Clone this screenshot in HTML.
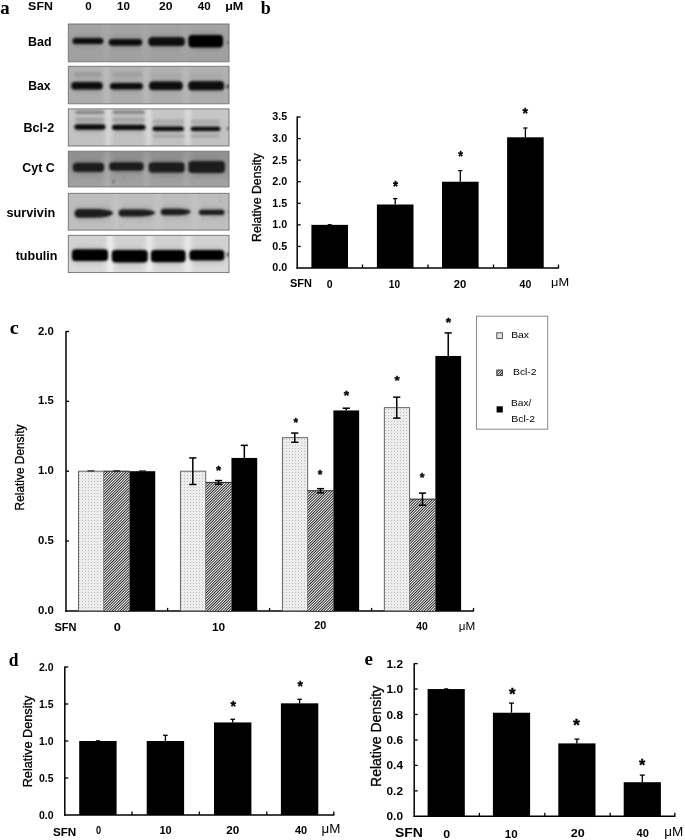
<!DOCTYPE html><html><head><meta charset="utf-8"><style>html,body{margin:0;padding:0;background:#fff;width:685px;height:840px;overflow:hidden}svg{display:block;filter:blur(0.4px)}</style></head><body>
<svg width="685" height="840" viewBox="0 0 685 840">
<defs>
<pattern id="dots" width="3" height="3" patternUnits="userSpaceOnUse"><rect width="3" height="3" fill="#ececec"/><rect x="1" y="1" width="1" height="1" fill="#bcbcbc"/></pattern>
<pattern id="hatch" width="1.92" height="4" patternUnits="userSpaceOnUse" patternTransform="rotate(45)"><rect width="1.92" height="4" fill="#f6f6f6"/><rect width="0.9" height="4" fill="#1a1a1a"/></pattern>
<filter id="blur1" x="-10%" y="-50%" width="120%" height="200%"><feGaussianBlur stdDeviation="0.8"/></filter>
<filter id="blur2" x="-10%" y="-80%" width="120%" height="260%"><feGaussianBlur stdDeviation="1.3"/></filter>
<filter id="blur3" x="-20%" y="-50%" width="140%" height="200%"><feGaussianBlur stdDeviation="2.2"/></filter>
</defs>
<rect width="685" height="840" fill="#fff"/>
<text x="0.32" y="14.14" font-size="19.5" font-weight="bold" text-anchor="start" font-family='"Liberation Serif", serif' textLength="9.41" lengthAdjust="spacingAndGlyphs">a</text>
<text x="260.78" y="14.38" font-size="18" font-weight="bold" text-anchor="start" font-family='"Liberation Serif", serif' >b</text>
<text x="9.71" y="333.92" font-size="18" font-weight="bold" text-anchor="start" font-family='"Liberation Serif", serif' textLength="9.05" lengthAdjust="spacingAndGlyphs">c</text>
<text x="8.87" y="665.64" font-size="18" font-weight="bold" text-anchor="start" font-family='"Liberation Serif", serif' textLength="9.75" lengthAdjust="spacingAndGlyphs">d</text>
<text x="364.43" y="664.64" font-size="18" font-weight="bold" text-anchor="start" font-family='"Liberation Serif", serif' textLength="8.42" lengthAdjust="spacingAndGlyphs">e</text>
<text x="28.14" y="9.64" font-size="11.6" font-weight="bold" text-anchor="start" font-family='"Liberation Sans", sans-serif' textLength="24.80" lengthAdjust="spacingAndGlyphs">SFN</text>
<text x="85.16" y="10.48" font-size="11.5" font-weight="bold" text-anchor="start" font-family='"Liberation Sans", sans-serif' >0</text>
<text x="117.00" y="10.48" font-size="11.5" font-weight="bold" text-anchor="start" font-family='"Liberation Sans", sans-serif' >10</text>
<text x="159.05" y="10.47" font-size="11.5" font-weight="bold" text-anchor="start" font-family='"Liberation Sans", sans-serif' textLength="13.56" lengthAdjust="spacingAndGlyphs">20</text>
<text x="197.84" y="10.49" font-size="11.5" font-weight="bold" text-anchor="start" font-family='"Liberation Sans", sans-serif' textLength="12.91" lengthAdjust="spacingAndGlyphs">40</text>
<text x="225.19" y="9.64" font-size="11.5" font-weight="bold" text-anchor="start" font-family='"Liberation Sans", sans-serif' textLength="18.15" lengthAdjust="spacingAndGlyphs">μM</text>
<text x="28.14" y="46.28" font-size="12" font-weight="bold" text-anchor="start" font-family='"Liberation Sans", sans-serif' textLength="23.54" lengthAdjust="spacingAndGlyphs">Bad</text>
<text x="28.16" y="90.24" font-size="12" font-weight="bold" text-anchor="start" font-family='"Liberation Sans", sans-serif' textLength="22.32" lengthAdjust="spacingAndGlyphs">Bax</text>
<text x="23.57" y="132.26" font-size="12" font-weight="bold" text-anchor="start" font-family='"Liberation Sans", sans-serif' textLength="30.66" lengthAdjust="spacingAndGlyphs">Bcl-2</text>
<text x="22.32" y="171.52" font-size="12.2" font-weight="bold" text-anchor="start" font-family='"Liberation Sans", sans-serif' textLength="32.37" lengthAdjust="spacingAndGlyphs">Cyt C</text>
<text x="6.44" y="216.88" font-size="12.2" font-weight="bold" text-anchor="start" font-family='"Liberation Sans", sans-serif' textLength="48.75" lengthAdjust="spacingAndGlyphs">survivin</text>
<text x="15.65" y="259.57" font-size="12.3" font-weight="bold" text-anchor="start" font-family='"Liberation Sans", sans-serif' textLength="41.87" lengthAdjust="spacingAndGlyphs">tubulin</text>
<defs>
<linearGradient id="pg0" x1="0" y1="0" x2="0" y2="1"><stop offset="0" stop-color="#a3a3a3"/><stop offset="1" stop-color="#a0a0a0"/></linearGradient>
<clipPath id="pc0"><rect x="68.3" y="24.0" width="160.70" height="37.80"/></clipPath>
<linearGradient id="pg1" x1="0" y1="0" x2="0" y2="1"><stop offset="0" stop-color="#b2b2b2"/><stop offset="1" stop-color="#acacac"/></linearGradient>
<clipPath id="pc1"><rect x="68.3" y="66.3" width="160.70" height="37.50"/></clipPath>
<linearGradient id="pg2" x1="0" y1="0" x2="0" y2="1"><stop offset="0" stop-color="#c7c7c7"/><stop offset="1" stop-color="#c0c0c0"/></linearGradient>
<clipPath id="pc2"><rect x="68.3" y="108.9" width="160.70" height="37.10"/></clipPath>
<linearGradient id="pg3" x1="0" y1="0" x2="0" y2="1"><stop offset="0" stop-color="#8e8e8e"/><stop offset="1" stop-color="#a2a2a2"/></linearGradient>
<clipPath id="pc3"><rect x="68.3" y="151.2" width="160.70" height="35.70"/></clipPath>
<linearGradient id="pg4" x1="0" y1="0" x2="0" y2="1"><stop offset="0" stop-color="#bcbcbc"/><stop offset="1" stop-color="#bfbfbf"/></linearGradient>
<clipPath id="pc4"><rect x="68.3" y="193.3" width="160.70" height="36.80"/></clipPath>
<linearGradient id="pg5" x1="0" y1="0" x2="0" y2="1"><stop offset="0" stop-color="#d0d0d0"/><stop offset="1" stop-color="#d9d9d9"/></linearGradient>
<clipPath id="pc5"><rect x="68.3" y="235.3" width="160.70" height="37.30"/></clipPath>
</defs>
<g clip-path="url(#pc0)">
<rect x="68.30" y="24.00" width="160.70" height="37.80" fill="url(#pg0)" />
<g filter="url(#blur3)">
<rect x="104.50" y="21.0" width="4" height="43.80" fill="#fff" opacity="0.1"/>
<rect x="144.00" y="21.0" width="4" height="43.80" fill="#fff" opacity="0.08"/>
<rect x="184.00" y="21.0" width="4" height="43.80" fill="#fff" opacity="0.06"/>
<rect x="71.60" y="34.90" width="32.80" height="12.20" rx="6.10" fill="#000" opacity="0.10"/>
<rect x="107.70" y="35.90" width="35.50" height="12.80" rx="6.40" fill="#000" opacity="0.10"/>
<rect x="147.50" y="34.20" width="38.20" height="14.80" rx="7.40" fill="#000" opacity="0.10"/>
<rect x="187.40" y="32.00" width="36.60" height="18.40" rx="9.20" fill="#000" opacity="0.10"/>
</g>
<g filter="url(#blur2)">
</g>
<g filter="url(#blur1)">
<rect x="72.60" y="37.90" width="30.80" height="6.20" rx="3.10" fill="#111"/>
<rect x="108.70" y="38.90" width="33.50" height="6.80" rx="3.40" fill="#0e0e0e"/>
<rect x="148.50" y="37.20" width="36.20" height="8.80" rx="3.60" fill="#080808"/>
<rect x="188.40" y="35.00" width="34.60" height="12.40" rx="3.60" fill="#050505"/>
<ellipse cx="228.3" cy="42.5" rx="1.0" ry="2.0" fill="#555"/>
</g></g>
<rect x="68.30" y="24.00" width="160.70" height="37.80" fill="none" stroke="#6e6e6e" stroke-width="0.9"/>
<g clip-path="url(#pc1)">
<rect x="68.30" y="66.30" width="160.70" height="37.50" fill="url(#pg1)" />
<g filter="url(#blur3)">
<rect x="104.50" y="63.3" width="4" height="43.50" fill="#fff" opacity="0.22"/>
<rect x="144.50" y="63.3" width="4" height="43.50" fill="#fff" opacity="0.18"/>
<rect x="184.00" y="63.3" width="4" height="43.50" fill="#fff" opacity="0.15"/>
<rect x="70.30" y="79.10" width="33.50" height="13.40" rx="6.70" fill="#000" opacity="0.10"/>
<rect x="109.00" y="80.10" width="34.90" height="12.40" rx="6.20" fill="#000" opacity="0.10"/>
<rect x="148.20" y="78.40" width="35.50" height="14.60" rx="7.30" fill="#000" opacity="0.10"/>
<rect x="187.40" y="78.35" width="37.70" height="14.90" rx="7.45" fill="#000" opacity="0.10"/>
</g>
<g filter="url(#blur2)">
<rect x="73.9" y="72.10" width="27.60" height="5.0" rx="2.50" fill="#9c9c9c"/>
<rect x="112.6" y="72.10" width="29.60" height="5.0" rx="2.50" fill="#a0a0a0"/>
<rect x="151" y="73.55" width="31.00" height="4.5" rx="2.25" fill="#a8a8a8"/>
<rect x="190" y="73.55" width="33.00" height="4.5" rx="2.25" fill="#a8a8a8"/>
</g>
<g filter="url(#blur1)">
<rect x="71.30" y="82.10" width="31.50" height="7.40" rx="3.60" fill="#0c0c0c"/>
<rect x="110.00" y="83.10" width="32.90" height="6.40" rx="3.20" fill="#0e0e0e"/>
<rect x="149.20" y="81.40" width="33.50" height="8.60" rx="3.60" fill="#080808"/>
<rect x="188.40" y="81.35" width="35.70" height="8.90" rx="3.60" fill="#080808"/>
<ellipse cx="228.3" cy="86.4" rx="1.4" ry="2.0" fill="#111"/>
</g></g>
<rect x="68.30" y="66.30" width="160.70" height="37.50" fill="none" stroke="#6e6e6e" stroke-width="0.9"/>
<g clip-path="url(#pc2)">
<rect x="68.30" y="108.90" width="160.70" height="37.10" fill="url(#pg2)" />
<g filter="url(#blur3)">
<rect x="106.00" y="105.9" width="5" height="43.10" fill="#fff" opacity="0.4"/>
<rect x="146.00" y="105.9" width="5" height="43.10" fill="#fff" opacity="0.45"/>
<rect x="185.50" y="105.9" width="5" height="43.10" fill="#fff" opacity="0.4"/>
<rect x="73.50" y="121.20" width="32.90" height="11.60" rx="5.80" fill="#000" opacity="0.10"/>
<rect x="111.00" y="121.70" width="35.50" height="11.20" rx="5.60" fill="#000" opacity="0.10"/>
<rect x="151.50" y="123.55" width="33.50" height="10.50" rx="5.25" fill="#000" opacity="0.10"/>
<rect x="189.60" y="123.75" width="31.80" height="10.30" rx="5.15" fill="#000" opacity="0.10"/>
</g>
<g filter="url(#blur2)">
<rect x="75.2" y="110.20" width="28.90" height="4.0" rx="2.00" fill="#8a8a8a"/>
<rect x="112.6" y="110.20" width="32.20" height="4.0" rx="2.00" fill="#8c8c8c"/>
<rect x="75.2" y="117.60" width="28.90" height="4.4" rx="2.20" fill="#a4a4a4"/>
<rect x="112.6" y="117.60" width="32.20" height="4.4" rx="2.20" fill="#a6a6a6"/>
<rect x="153" y="119.60" width="31.00" height="4.8" rx="2.40" fill="#acacac"/>
<rect x="191" y="119.60" width="29.00" height="4.8" rx="2.40" fill="#acacac"/>
<rect x="153" y="133.90" width="31.00" height="4.0" rx="2.00" fill="#aaaaaa"/>
<rect x="191" y="133.90" width="29.00" height="4.0" rx="2.00" fill="#aaaaaa"/>
</g>
<g filter="url(#blur1)">
<rect x="74.50" y="124.20" width="30.90" height="5.60" rx="2.80" fill="#0a0a0a"/>
<rect x="112.00" y="124.70" width="33.50" height="5.20" rx="2.60" fill="#0a0a0a"/>
<rect x="152.50" y="126.55" width="31.50" height="4.50" rx="2.25" fill="#0e0e0e"/>
<rect x="190.60" y="126.75" width="29.80" height="4.30" rx="2.15" fill="#0e0e0e"/>
<ellipse cx="228.3" cy="128.6" rx="1.1" ry="1.4" fill="#222"/>
</g></g>
<rect x="68.30" y="108.90" width="160.70" height="37.10" fill="none" stroke="#6e6e6e" stroke-width="0.9"/>
<g clip-path="url(#pc3)">
<rect x="68.30" y="151.20" width="160.70" height="35.70" fill="url(#pg3)" />
<g filter="url(#blur3)">
<rect x="105.00" y="148.2" width="4" height="41.70" fill="#fff" opacity="0.2"/>
<rect x="144.50" y="148.2" width="4" height="41.70" fill="#fff" opacity="0.15"/>
<rect x="184.50" y="148.2" width="4" height="41.70" fill="#fff" opacity="0.12"/>
<rect x="71.80" y="159.70" width="33.30" height="15.20" rx="7.60" fill="#000" opacity="0.10"/>
<rect x="108.20" y="159.30" width="36.50" height="14.40" rx="7.20" fill="#000" opacity="0.10"/>
<rect x="147.70" y="159.20" width="37.90" height="16.40" rx="8.20" fill="#000" opacity="0.10"/>
<rect x="187.40" y="157.90" width="38.50" height="18.00" rx="9.00" fill="#000" opacity="0.10"/>
</g>
<g filter="url(#blur2)">
</g>
<g filter="url(#blur1)">
<rect x="72.80" y="162.70" width="31.30" height="9.20" rx="3.60" fill="#1c1c1c"/>
<rect x="109.20" y="162.30" width="34.50" height="8.40" rx="3.60" fill="#1c1c1c"/>
<rect x="148.70" y="162.20" width="35.90" height="10.40" rx="3.60" fill="#1c1c1c"/>
<rect x="188.40" y="160.90" width="36.50" height="12.00" rx="3.60" fill="#1c1c1c"/>
<ellipse cx="113.5" cy="181.5" rx="0.6" ry="1.6" fill="#333"/>
<ellipse cx="124" cy="178" rx="0.5" ry="0.5" fill="#444"/>
</g></g>
<rect x="68.30" y="151.20" width="160.70" height="35.70" fill="none" stroke="#6e6e6e" stroke-width="0.9"/>
<g clip-path="url(#pc4)">
<rect x="68.30" y="193.30" width="160.70" height="36.80" fill="url(#pg4)" />
<g filter="url(#blur3)">
<rect x="114.00" y="190.3" width="4" height="42.80" fill="#fff" opacity="0.12"/>
<rect x="155.50" y="190.3" width="4" height="42.80" fill="#fff" opacity="0.12"/>
<rect x="193.00" y="190.3" width="4" height="42.80" fill="#fff" opacity="0.12"/>
<rect x="73.50" y="206.10" width="40.50" height="14.60" rx="7.30" fill="#000" opacity="0.10"/>
<rect x="117.60" y="206.40" width="38.50" height="13.00" rx="6.50" fill="#000" opacity="0.10"/>
<rect x="159.80" y="205.70" width="31.80" height="12.60" rx="6.30" fill="#000" opacity="0.10"/>
<rect x="197.90" y="206.70" width="27.50" height="11.20" rx="5.60" fill="#000" opacity="0.10"/>
</g>
<g filter="url(#blur2)">
</g>
<g filter="url(#blur1)">
<path d="M78.80,209.10 L94.08,209.10 C107.84,209.10 113.00,211.68 113.00,212.97 C113.00,214.69 107.84,217.70 94.08,217.70 L78.80,217.70 A4.30,4.30 0 0 1 78.80,209.10 Z" fill="#1c1c1c"/>
<path d="M122.10,209.40 L139.70,209.40 C150.90,209.40 155.10,211.50 155.10,212.55 C155.10,213.95 150.90,216.40 139.70,216.40 L122.10,216.40 A3.50,3.50 0 0 1 122.10,209.40 Z" fill="#1c1c1c"/>
<path d="M164.10,208.70 L176.08,208.70 C186.64,208.70 190.60,210.68 190.60,211.67 C190.60,212.99 186.64,215.30 176.08,215.30 L164.10,215.30 A3.30,3.30 0 0 1 164.10,208.70 Z" fill="#1c1c1c"/>
<rect x="198.90" y="209.70" width="25.50" height="5.20" rx="2.60" fill="#1e1e1e"/>
<ellipse cx="228.3" cy="211.6" rx="0.8" ry="1.2" fill="#666"/>
<ellipse cx="214.5" cy="217.5" rx="0.8" ry="0.5" fill="#555"/>
<ellipse cx="121.2" cy="225.5" rx="0.5" ry="0.5" fill="#555"/>
<ellipse cx="220.5" cy="200.5" rx="0.6" ry="0.9" fill="#888"/>
</g></g>
<rect x="68.30" y="193.30" width="160.70" height="36.80" fill="none" stroke="#6e6e6e" stroke-width="0.9"/>
<g clip-path="url(#pc5)">
<rect x="68.30" y="235.30" width="160.70" height="37.30" fill="url(#pg5)" />
<g filter="url(#blur3)">
<rect x="107.00" y="232.3" width="6" height="43.30" fill="#fff" opacity="0.65"/>
<rect x="146.30" y="232.3" width="6" height="43.30" fill="#fff" opacity="0.55"/>
<rect x="184.80" y="232.3" width="6" height="43.30" fill="#fff" opacity="0.55"/>
<rect x="71.00" y="246.30" width="38.00" height="17.80" rx="8.90" fill="#000" opacity="0.10"/>
<rect x="110.80" y="247.00" width="37.90" height="18.40" rx="9.20" fill="#000" opacity="0.10"/>
<rect x="150.00" y="247.10" width="36.50" height="18.20" rx="9.10" fill="#000" opacity="0.10"/>
<rect x="188.50" y="247.00" width="36.80" height="16.60" rx="8.30" fill="#000" opacity="0.10"/>
</g>
<g filter="url(#blur2)">
</g>
<g filter="url(#blur1)">
<rect x="72.00" y="249.30" width="36.00" height="11.80" rx="3.60" fill="#060606"/>
<rect x="111.80" y="250.00" width="35.90" height="12.40" rx="3.60" fill="#060606"/>
<rect x="151.00" y="250.10" width="34.50" height="12.20" rx="3.60" fill="#060606"/>
<rect x="189.50" y="250.00" width="34.80" height="10.60" rx="3.60" fill="#060606"/>
<ellipse cx="228.3" cy="254.6" rx="1.3" ry="2.2" fill="#222"/>
</g></g>
<rect x="68.30" y="235.30" width="160.70" height="37.30" fill="none" stroke="#6e6e6e" stroke-width="0.9"/>
<line x1="297.20" y1="116.61" x2="297.20" y2="268.75" stroke="#000" stroke-width="1.5"/>
<line x1="297.20" y1="246.43" x2="300.70" y2="246.43" stroke="#000" stroke-width="1.3"/>
<line x1="297.20" y1="224.86" x2="300.70" y2="224.86" stroke="#000" stroke-width="1.3"/>
<line x1="297.20" y1="203.29" x2="300.70" y2="203.29" stroke="#000" stroke-width="1.3"/>
<line x1="297.20" y1="181.72" x2="300.70" y2="181.72" stroke="#000" stroke-width="1.3"/>
<line x1="297.20" y1="160.15" x2="300.70" y2="160.15" stroke="#000" stroke-width="1.3"/>
<line x1="297.20" y1="138.58" x2="300.70" y2="138.58" stroke="#000" stroke-width="1.3"/>
<line x1="297.20" y1="117.01" x2="300.70" y2="117.01" stroke="#000" stroke-width="1.3"/>
<line x1="296.45" y1="268.00" x2="559.10" y2="268.00" stroke="#000" stroke-width="1.5"/>
<line x1="362.50" y1="268.00" x2="362.50" y2="264.50" stroke="#000" stroke-width="1.3"/>
<line x1="428.00" y1="268.00" x2="428.00" y2="264.50" stroke="#000" stroke-width="1.3"/>
<line x1="493.50" y1="268.00" x2="493.50" y2="264.50" stroke="#000" stroke-width="1.3"/>
<line x1="558.50" y1="268.00" x2="558.50" y2="264.50" stroke="#000" stroke-width="1.3"/>
<text x="272.27" y="271.47" font-size="10.2" font-weight="bold" text-anchor="start" font-family='"Liberation Sans", sans-serif' textLength="14.91" lengthAdjust="spacingAndGlyphs">0.0</text>
<text x="272.27" y="249.90" font-size="10.2" font-weight="bold" text-anchor="start" font-family='"Liberation Sans", sans-serif' textLength="14.91" lengthAdjust="spacingAndGlyphs">0.5</text>
<text x="272.27" y="228.33" font-size="10.2" font-weight="bold" text-anchor="start" font-family='"Liberation Sans", sans-serif' textLength="14.91" lengthAdjust="spacingAndGlyphs">1.0</text>
<text x="272.27" y="206.76" font-size="10.2" font-weight="bold" text-anchor="start" font-family='"Liberation Sans", sans-serif' textLength="14.91" lengthAdjust="spacingAndGlyphs">1.5</text>
<text x="272.27" y="185.19" font-size="10.2" font-weight="bold" text-anchor="start" font-family='"Liberation Sans", sans-serif' textLength="14.91" lengthAdjust="spacingAndGlyphs">2.0</text>
<text x="272.27" y="163.62" font-size="10.2" font-weight="bold" text-anchor="start" font-family='"Liberation Sans", sans-serif' textLength="14.91" lengthAdjust="spacingAndGlyphs">2.5</text>
<text x="272.27" y="142.05" font-size="10.2" font-weight="bold" text-anchor="start" font-family='"Liberation Sans", sans-serif' textLength="14.91" lengthAdjust="spacingAndGlyphs">3.0</text>
<text x="272.27" y="120.48" font-size="10.2" font-weight="bold" text-anchor="start" font-family='"Liberation Sans", sans-serif' textLength="14.91" lengthAdjust="spacingAndGlyphs">3.5</text>
<rect x="311.40" y="224.86" width="36.60" height="43.14" fill="#000" />
<line x1="327.70" y1="224.56" x2="331.70" y2="224.56" stroke="#000" stroke-width="1.0"/>
<rect x="376.90" y="204.50" width="36.60" height="63.50" fill="#000" />
<line x1="395.20" y1="198.60" x2="395.20" y2="204.50" stroke="#000" stroke-width="1.3"/>
<line x1="393.10" y1="198.60" x2="397.30" y2="198.60" stroke="#000" stroke-width="1.3"/>
<rect x="442.00" y="181.72" width="36.60" height="86.28" fill="#000" />
<line x1="460.30" y1="170.60" x2="460.30" y2="181.72" stroke="#000" stroke-width="1.3"/>
<line x1="458.20" y1="170.60" x2="462.40" y2="170.60" stroke="#000" stroke-width="1.3"/>
<rect x="507.10" y="137.29" width="36.60" height="130.71" fill="#000" />
<line x1="525.40" y1="128.00" x2="525.40" y2="137.29" stroke="#000" stroke-width="1.3"/>
<line x1="523.30" y1="128.00" x2="527.50" y2="128.00" stroke="#000" stroke-width="1.3"/>
<text x="395.53" y="190.57" font-size="14" font-weight="bold" text-anchor="middle" font-family='"Liberation Sans", sans-serif' textLength="5.07" lengthAdjust="spacingAndGlyphs" stroke="#000" stroke-width="0.35">*</text>
<text x="460.63" y="161.49" font-size="14" font-weight="bold" text-anchor="middle" font-family='"Liberation Sans", sans-serif' textLength="4.66" lengthAdjust="spacingAndGlyphs" stroke="#000" stroke-width="0.35">*</text>
<text x="525.18" y="117.83" font-size="14" font-weight="bold" text-anchor="middle" font-family='"Liberation Sans", sans-serif' textLength="5.44" lengthAdjust="spacingAndGlyphs" stroke="#000" stroke-width="0.35">*</text>
<text transform="translate(261.00,197.50) rotate(-90)" font-size="12.3" text-anchor="middle" font-family='"Liberation Sans", sans-serif' stroke="#000" stroke-width="0.3">Relative Density</text>
<text x="289.93" y="287.00" font-size="10.3" font-weight="bold" text-anchor="start" font-family='"Liberation Sans", sans-serif' textLength="21.93" lengthAdjust="spacingAndGlyphs">SFN</text>
<text x="326.70" y="287.77" font-size="10.5" font-weight="bold" text-anchor="start" font-family='"Liberation Sans", sans-serif' >0</text>
<text x="388.77" y="288.00" font-size="10.5" font-weight="bold" text-anchor="start" font-family='"Liberation Sans", sans-serif' textLength="11.23" lengthAdjust="spacingAndGlyphs">10</text>
<text x="453.69" y="287.97" font-size="10.5" font-weight="bold" text-anchor="start" font-family='"Liberation Sans", sans-serif' textLength="12.54" lengthAdjust="spacingAndGlyphs">20</text>
<text x="519.62" y="288.04" font-size="10.5" font-weight="bold" text-anchor="start" font-family='"Liberation Sans", sans-serif' >40</text>
<text x="551.00" y="286.29" font-size="10.5" font-weight="normal" text-anchor="start" font-family='"Liberation Sans", sans-serif' textLength="18.04" lengthAdjust="spacingAndGlyphs">μM</text>
<line x1="66.00" y1="331.10" x2="66.00" y2="611.65" stroke="#000" stroke-width="1.5"/>
<line x1="66.00" y1="541.05" x2="69.00" y2="541.05" stroke="#000" stroke-width="1.3"/>
<line x1="66.00" y1="471.20" x2="69.00" y2="471.20" stroke="#000" stroke-width="1.3"/>
<line x1="66.00" y1="401.35" x2="69.00" y2="401.35" stroke="#000" stroke-width="1.3"/>
<line x1="66.00" y1="331.50" x2="69.00" y2="331.50" stroke="#000" stroke-width="1.3"/>
<line x1="65.25" y1="610.90" x2="474.10" y2="610.90" stroke="#000" stroke-width="1.5"/>
<line x1="167.60" y1="610.90" x2="167.60" y2="607.90" stroke="#000" stroke-width="1.3"/>
<line x1="269.60" y1="610.90" x2="269.60" y2="607.90" stroke="#000" stroke-width="1.3"/>
<line x1="371.60" y1="610.90" x2="371.60" y2="607.90" stroke="#000" stroke-width="1.3"/>
<line x1="473.50" y1="610.90" x2="473.50" y2="607.90" stroke="#000" stroke-width="1.3"/>
<text x="37.92" y="614.01" font-size="10.5" font-weight="bold" text-anchor="start" font-family='"Liberation Sans", sans-serif' textLength="15.80" lengthAdjust="spacingAndGlyphs">0.0</text>
<text x="37.92" y="544.16" font-size="10.5" font-weight="bold" text-anchor="start" font-family='"Liberation Sans", sans-serif' textLength="15.80" lengthAdjust="spacingAndGlyphs">0.5</text>
<text x="37.92" y="474.31" font-size="10.5" font-weight="bold" text-anchor="start" font-family='"Liberation Sans", sans-serif' textLength="15.80" lengthAdjust="spacingAndGlyphs">1.0</text>
<text x="37.92" y="404.46" font-size="10.5" font-weight="bold" text-anchor="start" font-family='"Liberation Sans", sans-serif' textLength="15.80" lengthAdjust="spacingAndGlyphs">1.5</text>
<text x="37.92" y="334.61" font-size="10.5" font-weight="bold" text-anchor="start" font-family='"Liberation Sans", sans-serif' textLength="15.80" lengthAdjust="spacingAndGlyphs">2.0</text>
<rect x="78.50" y="471.20" width="25.25" height="139.70" fill="url(#dots)" stroke="#666" stroke-width="1"/>
<rect x="103.75" y="471.20" width="25.75" height="139.70" fill="url(#hatch)" />
<line x1="103.75" y1="471.20" x2="129.50" y2="471.20" stroke="#222" stroke-width="1.0"/>
<rect x="129.50" y="471.20" width="25.75" height="139.70" fill="#000" />
<line x1="87.38" y1="470.90" x2="94.38" y2="470.90" stroke="#000" stroke-width="1.0"/>
<line x1="113.12" y1="470.90" x2="120.12" y2="470.90" stroke="#000" stroke-width="1.0"/>
<line x1="138.88" y1="470.90" x2="145.88" y2="470.90" stroke="#000" stroke-width="1.0"/>
<rect x="180.45" y="471.20" width="25.25" height="139.70" fill="url(#dots)" stroke="#666" stroke-width="1"/>
<rect x="205.70" y="482.38" width="25.75" height="128.52" fill="url(#hatch)" />
<line x1="205.70" y1="482.38" x2="231.45" y2="482.38" stroke="#222" stroke-width="1.0"/>
<rect x="231.45" y="457.93" width="25.75" height="152.97" fill="#000" />
<line x1="192.82" y1="457.93" x2="192.82" y2="484.47" stroke="#000" stroke-width="1.5"/>
<line x1="189.22" y1="457.93" x2="196.42" y2="457.93" stroke="#000" stroke-width="1.5"/>
<line x1="189.22" y1="484.47" x2="196.42" y2="484.47" stroke="#000" stroke-width="1.5"/>
<line x1="218.57" y1="480.56" x2="218.57" y2="484.19" stroke="#000" stroke-width="1.5"/>
<line x1="214.97" y1="480.56" x2="222.17" y2="480.56" stroke="#000" stroke-width="1.5"/>
<line x1="214.97" y1="484.19" x2="222.17" y2="484.19" stroke="#000" stroke-width="1.5"/>
<line x1="244.32" y1="445.36" x2="244.32" y2="457.93" stroke="#000" stroke-width="1.5"/>
<line x1="240.72" y1="445.36" x2="247.92" y2="445.36" stroke="#000" stroke-width="1.5"/>
<rect x="282.40" y="437.67" width="25.25" height="173.23" fill="url(#dots)" stroke="#666" stroke-width="1"/>
<rect x="307.65" y="490.76" width="25.75" height="120.14" fill="url(#hatch)" />
<line x1="307.65" y1="490.76" x2="333.40" y2="490.76" stroke="#222" stroke-width="1.0"/>
<rect x="333.40" y="410.43" width="25.75" height="200.47" fill="#000" />
<line x1="294.77" y1="433.06" x2="294.77" y2="442.28" stroke="#000" stroke-width="1.5"/>
<line x1="291.17" y1="433.06" x2="298.38" y2="433.06" stroke="#000" stroke-width="1.5"/>
<line x1="291.17" y1="442.28" x2="298.38" y2="442.28" stroke="#000" stroke-width="1.5"/>
<line x1="320.52" y1="488.66" x2="320.52" y2="492.85" stroke="#000" stroke-width="1.5"/>
<line x1="316.92" y1="488.66" x2="324.12" y2="488.66" stroke="#000" stroke-width="1.5"/>
<line x1="316.92" y1="492.85" x2="324.12" y2="492.85" stroke="#000" stroke-width="1.5"/>
<line x1="346.27" y1="408.20" x2="346.27" y2="410.43" stroke="#000" stroke-width="1.5"/>
<line x1="342.67" y1="408.20" x2="349.88" y2="408.20" stroke="#000" stroke-width="1.5"/>
<rect x="384.35" y="407.64" width="25.25" height="203.26" fill="url(#dots)" stroke="#666" stroke-width="1"/>
<rect x="409.60" y="499.14" width="25.75" height="111.76" fill="url(#hatch)" />
<line x1="409.60" y1="499.14" x2="435.35" y2="499.14" stroke="#222" stroke-width="1.0"/>
<rect x="435.35" y="355.95" width="25.75" height="254.95" fill="#000" />
<line x1="396.73" y1="397.16" x2="396.73" y2="418.11" stroke="#000" stroke-width="1.5"/>
<line x1="393.12" y1="397.16" x2="400.33" y2="397.16" stroke="#000" stroke-width="1.5"/>
<line x1="393.12" y1="418.11" x2="400.33" y2="418.11" stroke="#000" stroke-width="1.5"/>
<line x1="422.48" y1="493.13" x2="422.48" y2="505.15" stroke="#000" stroke-width="1.5"/>
<line x1="418.88" y1="493.13" x2="426.08" y2="493.13" stroke="#000" stroke-width="1.5"/>
<line x1="418.88" y1="505.15" x2="426.08" y2="505.15" stroke="#000" stroke-width="1.5"/>
<line x1="448.23" y1="332.90" x2="448.23" y2="355.95" stroke="#000" stroke-width="1.5"/>
<line x1="444.62" y1="332.90" x2="451.83" y2="332.90" stroke="#000" stroke-width="1.5"/>
<text x="218.50" y="475.08" font-size="13.5" font-weight="bold" text-anchor="middle" font-family='"Liberation Sans", sans-serif' textLength="5.11" lengthAdjust="spacingAndGlyphs" stroke="#000" stroke-width="0.35">*</text>
<text x="295.77" y="426.61" font-size="13.5" font-weight="bold" text-anchor="middle" font-family='"Liberation Sans", sans-serif' textLength="4.54" lengthAdjust="spacingAndGlyphs" stroke="#000" stroke-width="0.35">*</text>
<text x="319.98" y="479.28" font-size="13.5" font-weight="bold" text-anchor="middle" font-family='"Liberation Sans", sans-serif' textLength="4.60" lengthAdjust="spacingAndGlyphs" stroke="#000" stroke-width="0.35">*</text>
<text x="346.58" y="399.59" font-size="13.5" font-weight="bold" text-anchor="middle" font-family='"Liberation Sans", sans-serif' textLength="5.38" lengthAdjust="spacingAndGlyphs" stroke="#000" stroke-width="0.35">*</text>
<text x="397.00" y="384.99" font-size="13.5" font-weight="bold" text-anchor="middle" font-family='"Liberation Sans", sans-serif' textLength="5.21" lengthAdjust="spacingAndGlyphs" stroke="#000" stroke-width="0.35">*</text>
<text x="422.06" y="482.32" font-size="13.5" font-weight="bold" text-anchor="middle" font-family='"Liberation Sans", sans-serif' textLength="4.76" lengthAdjust="spacingAndGlyphs" stroke="#000" stroke-width="0.35">*</text>
<text x="448.32" y="327.19" font-size="13.5" font-weight="bold" text-anchor="middle" font-family='"Liberation Sans", sans-serif' textLength="5.31" lengthAdjust="spacingAndGlyphs" stroke="#000" stroke-width="0.35">*</text>
<text transform="translate(24.40,467.50) rotate(-90)" font-size="11.9" text-anchor="middle" font-family='"Liberation Sans", sans-serif' stroke="#000" stroke-width="0.3">Relative Density</text>
<text x="54.44" y="631.04" font-size="10.5" font-weight="bold" text-anchor="start" font-family='"Liberation Sans", sans-serif' textLength="22.08" lengthAdjust="spacingAndGlyphs">SFN</text>
<text x="113.77" y="630.52" font-size="10.5" font-weight="bold" text-anchor="start" font-family='"Liberation Sans", sans-serif' textLength="7.09" lengthAdjust="spacingAndGlyphs">0</text>
<text x="211.98" y="630.52" font-size="10.5" font-weight="bold" text-anchor="start" font-family='"Liberation Sans", sans-serif' textLength="13.21" lengthAdjust="spacingAndGlyphs">10</text>
<text x="314.17" y="629.40" font-size="10.5" font-weight="bold" text-anchor="start" font-family='"Liberation Sans", sans-serif' textLength="12.12" lengthAdjust="spacingAndGlyphs">20</text>
<text x="416.20" y="630.44" font-size="10.5" font-weight="bold" text-anchor="start" font-family='"Liberation Sans", sans-serif' textLength="11.46" lengthAdjust="spacingAndGlyphs">40</text>
<text x="458.71" y="629.93" font-size="10.5" font-weight="normal" text-anchor="start" font-family='"Liberation Sans", sans-serif' textLength="16.43" lengthAdjust="spacingAndGlyphs">μM</text>
<rect x="476.50" y="316.20" width="71.20" height="113.00" fill="#fff" stroke="#8a8a8a" stroke-width="1"/>
<rect x="496.80" y="332.80" width="5.60" height="5.60" fill="#e4e4e4" stroke="#444" stroke-width="0.9"/>
<rect x="496.80" y="370.00" width="5.60" height="5.60" fill="url(#hatch)" stroke="#333" stroke-width="0.9"/>
<rect x="496.60" y="406.30" width="6.20" height="6.20" fill="#000" />
<text x="511.17" y="337.84" font-size="9.8" font-weight="normal" text-anchor="start" font-family='"Liberation Sans", sans-serif' textLength="17.92" lengthAdjust="spacingAndGlyphs">Bax</text>
<text x="513.01" y="375.29" font-size="9.8" font-weight="normal" text-anchor="start" font-family='"Liberation Sans", sans-serif' textLength="23.57" lengthAdjust="spacingAndGlyphs">Bcl-2</text>
<text x="511.03" y="405.64" font-size="9.8" font-weight="normal" text-anchor="start" font-family='"Liberation Sans", sans-serif' textLength="20.44" lengthAdjust="spacingAndGlyphs">Bax/</text>
<text x="511.15" y="422.42" font-size="9.8" font-weight="normal" text-anchor="start" font-family='"Liberation Sans", sans-serif' textLength="23.97" lengthAdjust="spacingAndGlyphs">Bcl-2</text>
<line x1="64.80" y1="666.60" x2="64.80" y2="815.75" stroke="#000" stroke-width="1.5"/>
<line x1="64.80" y1="778.00" x2="68.30" y2="778.00" stroke="#000" stroke-width="1.3"/>
<line x1="64.80" y1="741.00" x2="68.30" y2="741.00" stroke="#000" stroke-width="1.3"/>
<line x1="64.80" y1="704.00" x2="68.30" y2="704.00" stroke="#000" stroke-width="1.3"/>
<line x1="64.80" y1="667.00" x2="68.30" y2="667.00" stroke="#000" stroke-width="1.3"/>
<line x1="64.05" y1="815.00" x2="334.40" y2="815.00" stroke="#000" stroke-width="1.5"/>
<line x1="132.00" y1="815.00" x2="132.00" y2="811.50" stroke="#000" stroke-width="1.3"/>
<line x1="199.40" y1="815.00" x2="199.40" y2="811.50" stroke="#000" stroke-width="1.3"/>
<line x1="266.80" y1="815.00" x2="266.80" y2="811.50" stroke="#000" stroke-width="1.3"/>
<line x1="333.80" y1="815.00" x2="333.80" y2="811.50" stroke="#000" stroke-width="1.3"/>
<text x="38.92" y="819.12" font-size="10.5" font-weight="bold" text-anchor="start" font-family='"Liberation Sans", sans-serif' >0.0</text>
<text x="38.92" y="782.12" font-size="10.5" font-weight="bold" text-anchor="start" font-family='"Liberation Sans", sans-serif' >0.5</text>
<text x="38.92" y="745.12" font-size="10.5" font-weight="bold" text-anchor="start" font-family='"Liberation Sans", sans-serif' >1.0</text>
<text x="38.92" y="708.12" font-size="10.5" font-weight="bold" text-anchor="start" font-family='"Liberation Sans", sans-serif' >1.5</text>
<text x="38.92" y="671.12" font-size="10.5" font-weight="bold" text-anchor="start" font-family='"Liberation Sans", sans-serif' >2.0</text>
<rect x="79.20" y="741.00" width="37.40" height="74.00" fill="#000" />
<line x1="95.90" y1="740.70" x2="99.90" y2="740.70" stroke="#000" stroke-width="1.0"/>
<rect x="146.70" y="741.00" width="37.40" height="74.00" fill="#000" />
<line x1="165.40" y1="735.30" x2="165.40" y2="741.00" stroke="#000" stroke-width="1.3"/>
<line x1="163.10" y1="735.30" x2="167.70" y2="735.30" stroke="#000" stroke-width="1.3"/>
<rect x="214.00" y="722.43" width="37.40" height="92.57" fill="#000" />
<line x1="232.70" y1="719.30" x2="232.70" y2="722.43" stroke="#000" stroke-width="1.3"/>
<line x1="230.40" y1="719.30" x2="235.00" y2="719.30" stroke="#000" stroke-width="1.3"/>
<rect x="280.90" y="703.33" width="37.40" height="111.67" fill="#000" />
<line x1="299.60" y1="699.30" x2="299.60" y2="703.33" stroke="#000" stroke-width="1.3"/>
<line x1="297.30" y1="699.30" x2="301.90" y2="699.30" stroke="#000" stroke-width="1.3"/>
<text x="233.39" y="711.15" font-size="15.5" font-weight="bold" text-anchor="middle" font-family='"Liberation Sans", sans-serif' textLength="5.56" lengthAdjust="spacingAndGlyphs" stroke="#000" stroke-width="0.35">*</text>
<text x="300.13" y="691.40" font-size="15.5" font-weight="bold" text-anchor="middle" font-family='"Liberation Sans", sans-serif' textLength="5.43" lengthAdjust="spacingAndGlyphs" stroke="#000" stroke-width="0.35">*</text>
<text transform="translate(31.90,741.50) rotate(-90)" font-size="12.7" text-anchor="middle" font-family='"Liberation Sans", sans-serif' stroke="#000" stroke-width="0.3">Relative Density</text>
<text x="52.91" y="835.56" font-size="11" font-weight="bold" text-anchor="start" font-family='"Liberation Sans", sans-serif' textLength="23.39" lengthAdjust="spacingAndGlyphs">SFN</text>
<text x="95.88" y="833.65" font-size="10.5" font-weight="bold" text-anchor="start" font-family='"Liberation Sans", sans-serif' textLength="5.11" lengthAdjust="spacingAndGlyphs">0</text>
<text x="159.45" y="833.69" font-size="10.5" font-weight="bold" text-anchor="start" font-family='"Liberation Sans", sans-serif' textLength="12.28" lengthAdjust="spacingAndGlyphs">10</text>
<text x="226.19" y="833.68" font-size="10.5" font-weight="bold" text-anchor="start" font-family='"Liberation Sans", sans-serif' textLength="13.04" lengthAdjust="spacingAndGlyphs">20</text>
<text x="294.92" y="833.64" font-size="10.5" font-weight="bold" text-anchor="start" font-family='"Liberation Sans", sans-serif' textLength="12.19" lengthAdjust="spacingAndGlyphs">40</text>
<text x="321.58" y="832.79" font-size="12" font-weight="normal" text-anchor="start" font-family='"Liberation Sans", sans-serif' textLength="18.85" lengthAdjust="spacingAndGlyphs">μM</text>
<line x1="414.20" y1="663.20" x2="414.20" y2="817.05" stroke="#000" stroke-width="1.5"/>
<line x1="414.20" y1="790.85" x2="417.70" y2="790.85" stroke="#000" stroke-width="1.3"/>
<line x1="414.20" y1="765.40" x2="417.70" y2="765.40" stroke="#000" stroke-width="1.3"/>
<line x1="414.20" y1="739.95" x2="417.70" y2="739.95" stroke="#000" stroke-width="1.3"/>
<line x1="414.20" y1="714.50" x2="417.70" y2="714.50" stroke="#000" stroke-width="1.3"/>
<line x1="414.20" y1="689.05" x2="417.70" y2="689.05" stroke="#000" stroke-width="1.3"/>
<line x1="414.20" y1="663.60" x2="417.70" y2="663.60" stroke="#000" stroke-width="1.3"/>
<line x1="413.45" y1="816.30" x2="675.40" y2="816.30" stroke="#000" stroke-width="1.5"/>
<line x1="479.40" y1="816.30" x2="479.40" y2="812.80" stroke="#000" stroke-width="1.3"/>
<line x1="544.80" y1="816.30" x2="544.80" y2="812.80" stroke="#000" stroke-width="1.3"/>
<line x1="610.20" y1="816.30" x2="610.20" y2="812.80" stroke="#000" stroke-width="1.3"/>
<line x1="674.80" y1="816.30" x2="674.80" y2="812.80" stroke="#000" stroke-width="1.3"/>
<text x="386.52" y="820.39" font-size="11.5" font-weight="bold" text-anchor="start" font-family='"Liberation Sans", sans-serif' textLength="16.48" lengthAdjust="spacingAndGlyphs">0.0</text>
<text x="386.52" y="794.94" font-size="11.5" font-weight="bold" text-anchor="start" font-family='"Liberation Sans", sans-serif' textLength="16.48" lengthAdjust="spacingAndGlyphs">0.2</text>
<text x="386.52" y="769.49" font-size="11.5" font-weight="bold" text-anchor="start" font-family='"Liberation Sans", sans-serif' textLength="16.48" lengthAdjust="spacingAndGlyphs">0.4</text>
<text x="386.52" y="744.04" font-size="11.5" font-weight="bold" text-anchor="start" font-family='"Liberation Sans", sans-serif' textLength="16.48" lengthAdjust="spacingAndGlyphs">0.6</text>
<text x="386.52" y="718.59" font-size="11.5" font-weight="bold" text-anchor="start" font-family='"Liberation Sans", sans-serif' textLength="16.48" lengthAdjust="spacingAndGlyphs">0.8</text>
<text x="386.52" y="693.14" font-size="11.5" font-weight="bold" text-anchor="start" font-family='"Liberation Sans", sans-serif' textLength="16.48" lengthAdjust="spacingAndGlyphs">1.0</text>
<text x="386.52" y="667.69" font-size="11.5" font-weight="bold" text-anchor="start" font-family='"Liberation Sans", sans-serif' textLength="16.48" lengthAdjust="spacingAndGlyphs">1.2</text>
<rect x="427.60" y="689.05" width="37.20" height="127.25" fill="#000" />
<line x1="444.20" y1="688.75" x2="448.20" y2="688.75" stroke="#000" stroke-width="1.0"/>
<rect x="492.90" y="712.74" width="37.20" height="103.56" fill="#000" />
<line x1="511.50" y1="703.10" x2="511.50" y2="712.74" stroke="#000" stroke-width="1.3"/>
<line x1="509.00" y1="703.10" x2="514.00" y2="703.10" stroke="#000" stroke-width="1.3"/>
<rect x="558.30" y="743.39" width="37.20" height="72.91" fill="#000" />
<line x1="576.90" y1="739.10" x2="576.90" y2="743.39" stroke="#000" stroke-width="1.3"/>
<line x1="574.40" y1="739.10" x2="579.40" y2="739.10" stroke="#000" stroke-width="1.3"/>
<rect x="623.70" y="782.20" width="37.20" height="34.10" fill="#000" />
<line x1="642.30" y1="775.10" x2="642.30" y2="782.20" stroke="#000" stroke-width="1.3"/>
<line x1="639.80" y1="775.10" x2="644.80" y2="775.10" stroke="#000" stroke-width="1.3"/>
<text x="512.32" y="700.09" font-size="16.5" font-weight="bold" text-anchor="middle" font-family='"Liberation Sans", sans-serif' textLength="6.62" lengthAdjust="spacingAndGlyphs" stroke="#000" stroke-width="0.35">*</text>
<text x="576.38" y="731.17" font-size="16.5" font-weight="bold" text-anchor="middle" font-family='"Liberation Sans", sans-serif' textLength="6.95" lengthAdjust="spacingAndGlyphs" stroke="#000" stroke-width="0.35">*</text>
<text x="642.17" y="771.05" font-size="16.5" font-weight="bold" text-anchor="middle" font-family='"Liberation Sans", sans-serif' textLength="6.26" lengthAdjust="spacingAndGlyphs" stroke="#000" stroke-width="0.35">*</text>
<text transform="translate(380.50,736.40) rotate(-90)" font-size="14.0" text-anchor="middle" font-family='"Liberation Sans", sans-serif' stroke="#000" stroke-width="0.3">Relative Density</text>
<text x="395.01" y="837.32" font-size="13.5" font-weight="bold" text-anchor="start" font-family='"Liberation Sans", sans-serif' textLength="27.94" lengthAdjust="spacingAndGlyphs">SFN</text>
<text x="443.15" y="838.04" font-size="11.5" font-weight="bold" text-anchor="start" font-family='"Liberation Sans", sans-serif' textLength="6.90" lengthAdjust="spacingAndGlyphs">0</text>
<text x="504.81" y="837.52" font-size="11.5" font-weight="bold" text-anchor="start" font-family='"Liberation Sans", sans-serif' textLength="12.89" lengthAdjust="spacingAndGlyphs">10</text>
<text x="570.78" y="837.42" font-size="11.5" font-weight="bold" text-anchor="start" font-family='"Liberation Sans", sans-serif' textLength="13.92" lengthAdjust="spacingAndGlyphs">20</text>
<text x="636.52" y="837.45" font-size="11.5" font-weight="bold" text-anchor="start" font-family='"Liberation Sans", sans-serif' textLength="12.26" lengthAdjust="spacingAndGlyphs">40</text>
<text x="664.33" y="835.98" font-size="13.5" font-weight="normal" text-anchor="start" font-family='"Liberation Sans", sans-serif' >μM</text>
</svg></body></html>
